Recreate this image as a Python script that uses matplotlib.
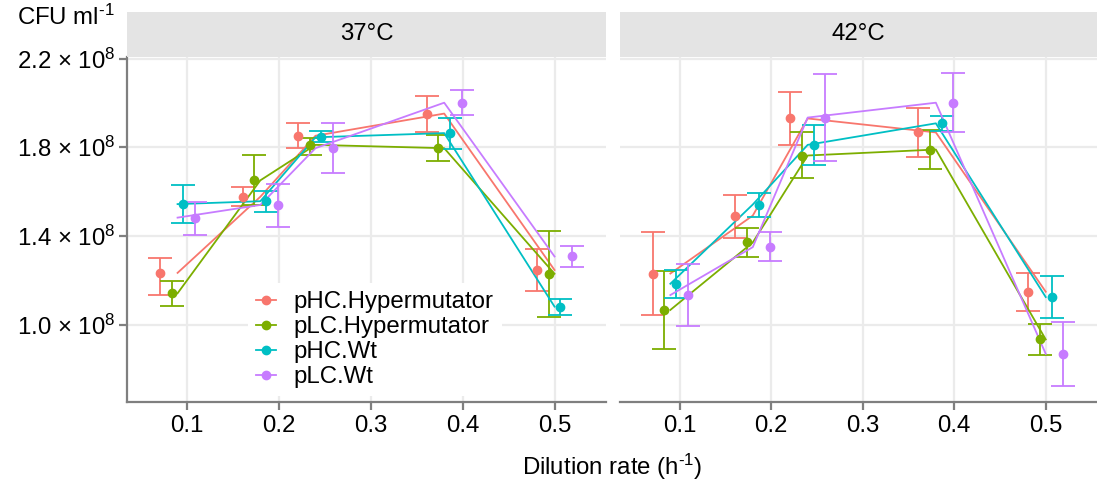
import numpy as np
import matplotlib
matplotlib.use('Agg')
from matplotlib import pyplot as plt

plt.rcParams['font.family'] = ['Liberation Sans', 'DejaVu Sans']
plt.rcParams['mathtext.fontset'] = 'custom'
plt.rcParams['mathtext.rm'] = 'Liberation Sans'
plt.rcParams['mathtext.it'] = 'Liberation Sans:italic'
plt.rcParams['mathtext.bf'] = 'Liberation Sans:bold'

# Data (CFU per ml, in units of 1e8)
groups = ['pHC.Hypermutator', 'pLC.Hypermutator', 'pHC.Wt', 'pLC.Wt']
colors = ['#F8766D', '#7CAE00', '#00BFC4', '#C77CFF']
dilution = [0.09, 0.18, 0.24, 0.38, 0.50]
temps = ['37°C', '42°C']

mean_37 = [[1.234, 1.577, 1.852, 1.952, 1.247],
           [1.142, 1.651, 1.811, 1.796, 1.230],
           [1.544, 1.557, 1.845, 1.864, 1.082],
           [1.483, 1.540, 1.796, 2.001, 1.308]]
lo_37 = [[1.134, 1.535, 1.796, 1.870, 1.152],
         [1.085, 1.540, 1.766, 1.738, 1.033],
         [1.458, 1.510, 1.826, 1.793, 1.045],
         [1.405, 1.440, 1.686, 1.946, 1.261]]
hi_37 = [[1.301, 1.619, 1.908, 2.031, 1.343],
         [1.197, 1.766, 1.842, 1.855, 1.423],
         [1.629, 1.604, 1.875, 1.934, 1.118],
         [1.554, 1.633, 1.909, 2.057, 1.353]]

mean_42 = [[1.231, 1.492, 1.930, 1.867, 1.149],
           [1.067, 1.371, 1.763, 1.790, 0.934],
           [1.185, 1.542, 1.811, 1.908, 1.125],
           [1.134, 1.350, 1.934, 2.001, 0.869]]
lo_42 = [[1.045, 1.393, 1.811, 1.756, 1.063],
         [0.893, 1.306, 1.663, 1.703, 0.864],
         [1.119, 1.484, 1.721, 1.872, 1.030],
         [0.996, 1.286, 1.738, 1.867, 0.723]]
hi_42 = [[1.416, 1.587, 2.051, 1.978, 1.234],
         [1.241, 1.435, 1.867, 1.878, 1.003],
         [1.249, 1.595, 1.900, 1.942, 1.218],
         [1.274, 1.416, 2.131, 2.136, 1.013]]

x_ticks = [0.1, 0.2, 0.3, 0.4, 0.5]
x_ticklabels = ['0.1', '0.2', '0.3', '0.4', '0.5']
y_ticks = [1.0, 1.4, 1.8, 2.2]
y_ticklabels = ['1.0 × 10$^{8}$', '1.4 × 10$^{8}$', '1.8 × 10$^{8}$', '2.2 × 10$^{8}$']

W, H = 1097, 486
fig = plt.figure(figsize=(W / 100, H / 100), dpi=100)

# panel boxes in pixels (left, top, right, bottom)
panels = [(127, 57, 606, 402), (620, 57, 1097, 402)]
dodge = [-0.0192, -0.0064, 0.0064, 0.0192]
grid_col = '#EBEBEB'
axis_col = '#7F7F7F'
fs = 17.3

all_data = [(mean_37, lo_37, hi_37), (mean_42, lo_42, hi_42)]
axes = []
for p, (l, t, r, b) in enumerate(panels):
    ax = fig.add_axes([l / W, 1 - b / H, (r - l) / W, (b - t) / H])
    axes.append(ax)
    means, los, his = all_data[p]
    for g in range(4):
        m = np.array(means[g])
        lo = np.array(los[g])
        hi = np.array(his[g])
        xd = np.array(dilution) + dodge[g]
        ax.plot(dilution, m, color=colors[g], lw=1.3, zorder=3)
        ax.errorbar(xd, m, yerr=[m - lo, hi - m], fmt='none', ecolor=colors[g],
                    elinewidth=1.3, capsize=8.3, capthick=1.3, zorder=3)
        ax.plot(xd, m, 'o', color=colors[g], ms=6, zorder=4,
                label=groups[g])
    ax.set_xlim(0.035, 0.556)
    ax.set_ylim(0.652, 2.207)
    ax.set_xticks(x_ticks)
    ax.set_xticklabels(x_ticklabels)
    ax.set_yticks(y_ticks)
    ax.grid(True, color=grid_col, lw=1.6, zorder=0)
    ax.set_axisbelow(True)
    for s in ['top', 'right']:
        ax.spines[s].set_visible(False)
    ax.spines['bottom'].set_color(axis_col)
    ax.spines['bottom'].set_linewidth(1.6)
    ax.tick_params(axis='x', length=5.5, width=1.6, color=axis_col,
                   labelsize=fs, pad=4)
    if p == 0:
        ax.spines['left'].set_color(axis_col)
        ax.spines['left'].set_linewidth(1.6)
        ax.set_yticklabels(y_ticklabels)
        ax.tick_params(axis='y', length=5.5, width=1.6, color=axis_col,
                       labelsize=fs, pad=3)
    else:
        ax.spines['left'].set_visible(False)
        ax.tick_params(axis='y', length=0, labelleft=False)

    # facet strip
    strip = fig.add_axes([l / W, 1 - t / H, (r - l) / W, 45 / H])
    strip.set_facecolor('#E4E4E4')
    strip.set_xticks([])
    strip.set_yticks([])
    for s in strip.spines.values():
        s.set_visible(False)
    strip.text(0.5, 0.5, temps[p], ha='center', va='center', fontsize=fs)

fig.text(115 / W, 1 - 17 / H, r'CFU ml$^{\text{-}1}$', ha='right', va='center',
         fontsize=fs)
fig.text(612 / W, 1 - 467 / H, r'Dilution rate (h$^{\text{-}1}$)', ha='center',
         va='center', fontsize=fs)

leg = axes[0].legend(loc='upper left', bbox_to_anchor=(248 / W, 1 - 283 / H),
                     bbox_transform=fig.transFigure, fontsize=fs,
                     handlelength=0.8, handletextpad=0.75, labelspacing=0.12,
                     borderpad=0.35, borderaxespad=0, frameon=True,
                     fancybox=False)
leg.get_frame().set_edgecolor('none')
leg.get_frame().set_facecolor('white')
leg.get_frame().set_alpha(1)
for h in leg.legend_handles:
    h.set_linestyle('-')
    h.set_linewidth(1.3)

fig.savefig('out.png', dpi=100)
